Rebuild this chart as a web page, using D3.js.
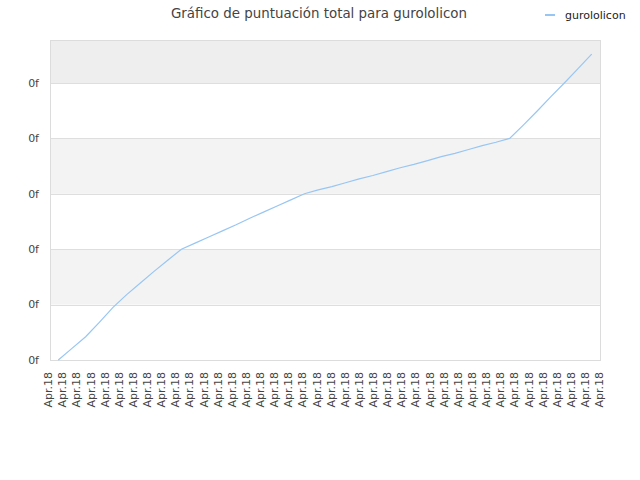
<!DOCTYPE html>
<html>
<head>
<meta charset="utf-8">
<script src="https://cdn.jsdelivr.net/npm/d3@7"></script>
<style>
  body { margin: 0; background: #fff; }
  text { font-family: "DejaVu Sans", sans-serif; }
</style>
</head>
<body>
<div id="chart"></div>
<script>
const chartTitle = 'Gráfico de puntuación total para gurololicon'
const seriesName = 'gurololicon'

// 40 days, all labelled the same way on the axis
const dates = d3.range(40).map(i => 'Apr.18')

// cumulative score, one value per day (gridline step = 1)
const scores = [
  0, 0.21, 0.42, 0.68, 0.95, 1.18, 1.39, 1.6, 1.8, 2.0,
  2.11, 2.22, 2.33, 2.44, 2.56, 2.67, 2.78, 2.89, 3.0,
  3.07, 3.13, 3.2, 3.27, 3.33, 3.4, 3.47, 3.53, 3.6, 3.67, 3.73, 3.8, 3.87, 3.93, 4.0,
  4.24, 4.49, 4.75, 5.0, 5.26, 5.52
]
const yTicks = [0, 1, 2, 3, 4, 5]
const yTickLabel = '0f'

const width = 640
const height = 480
const margin = { top: 40, right: 40, bottom: 120, left: 50 }
const plotW = width - margin.left - margin.right
const plotH = height - margin.top - margin.bottom

const svg = d3.select('#chart')
  .append('svg')
    .attr('width', width)
    .attr('height', height)

const g = svg.append('g')
  .attr('transform', `translate(${margin.left},${margin.top})`)

const yScale = d3.scaleLinear()
  .domain([0, 5.776])
  .range([plotH, 0])

// alternating bands between gridlines
const bandEdges = yTicks.concat([yScale.domain()[1]])
g.selectAll('rect.band')
  .data(d3.pairs(bandEdges))
  .enter().append('rect')
    .attr('class', 'band')
    .attr('x', 0)
    .attr('width', plotW)
    .attr('y', d => yScale(d[1]))
    .attr('height', d => yScale(d[0]) - yScale(d[1]))
    .attr('fill', (d, i) => i === bandEdges.length - 2 ? '#eeeeee' : (i % 2 ? '#f3f3f3' : '#ffffff'))

g.selectAll('line.grid')
  .data(yTicks.slice(1))
  .enter().append('line')
    .attr('class', 'grid')
    .attr('x1', 0)
    .attr('x2', plotW)
    .attr('y1', d => Math.round(yScale(d)) + 0.5)
    .attr('y2', d => Math.round(yScale(d)) + 0.5)
    .attr('stroke', '#dedede')

g.append('rect')
  .attr('x', 0.5)
  .attr('y', 0.5)
  .attr('width', plotW)
  .attr('height', plotH)
  .attr('fill', 'none')
  .attr('stroke', '#dcdcdc')

// y labels
g.selectAll('text.ylab')
  .data(yTicks)
  .enter().append('text')
    .attr('class', 'ylab')
    .attr('x', -11)
    .attr('y', d => yScale(d))
    .attr('dy', '0.35em')
    .attr('text-anchor', 'end')
    .attr('font-size', 11)
    .attr('fill', '#444')
    .text(yTickLabel)

// x labels
const xLabelScale = d3.scalePoint()
  .domain(d3.range(dates.length))
  .range([-1.7, plotW - 0.7])

g.selectAll('text.xlab')
  .data(dates)
  .enter().append('text')
    .attr('class', 'xlab')
    .attr('transform', (d, i) => `translate(${xLabelScale(i)},${plotH + 12}) rotate(-90)`)
    .attr('dy', '0.35em')
    .attr('text-anchor', 'end')
    .attr('font-size', 11)
    .attr('fill', '#444')
    .text(d => d)

// series line
const xScale = d3.scalePoint()
  .domain(d3.range(scores.length))
  .range([8.3, plotW - 8.3])

g.append('path')
  .datum(scores)
  .attr('fill', 'none')
  .attr('stroke', '#98c6f3')
  .attr('stroke-width', 1.2)
  .attr('d', d3.line()
    .x((d, i) => xScale(i))
    .y(d => yScale(d))
  )

// title
svg.append('text')
  .attr('x', 319)
  .attr('y', 18)
  .attr('text-anchor', 'middle')
  .attr('font-size', 13.4)
  .attr('fill', '#444')
  .text(chartTitle)

// legend
const legend = svg.append('g')
  .attr('transform', 'translate(545,15)')
legend.append('line')
  .attr('x1', 0)
  .attr('x2', 10)
  .attr('stroke', '#98c6f3')
  .attr('stroke-width', 2)
legend.append('text')
  .attr('x', 20)
  .attr('dy', '0.35em')
  .attr('font-size', 11)
  .attr('font-family', '"DejaVu Sans Condensed", "DejaVu Sans", sans-serif')
  .attr('fill', '#222')
  .text(seriesName)
</script>
</body>
</html>
